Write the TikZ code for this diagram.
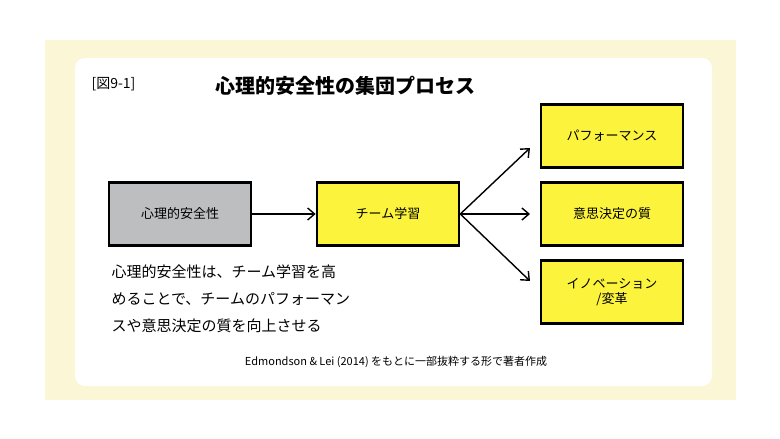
\documentclass[tikz,border=0pt]{standalone}
\usepackage{fontspec}
\setmainfont{Noto Sans CJK JP}
\usetikzlibrary{arrows.meta}
\definecolor{panel}{HTML}{FBF6D6}
\definecolor{ybox}{HTML}{FCF33C}
\definecolor{gbox}{HTML}{BDBEC0}
\begin{document}
\begin{tikzpicture}[x=1pt,y=-1pt,
 box/.style={draw=black,line width=2.6pt,fill=ybox,minimum width=142pt,minimum height=63pt,font=\fontsize{13}{15}\selectfont,align=center,inner sep=0pt},
 arr/.style={-{Straight Barb[length=7pt,width=12pt]},line width=1.4pt}]
\useasboundingbox (0,0) rectangle (780,439);
\fill[white] (0,0) rectangle (780,439);
\fill[panel] (45,40) rectangle (736,400);
\fill[white,rounded corners=10pt] (75,58) rectangle (712,386);
\node[anchor=west,font=\fontsize{14}{16}\selectfont] (fig) at (88,84) {[図9-1]};
\node[anchor=west,font=\fontsize{20}{22}\selectfont\bfseries] (title) at (212,86) {心理的安全性の集団プロセス};
\node[box,fill=gbox] (a) at (180,214) {心理的安全性};
\node[box] (b) at (388,214) {チーム学習};
\node[box] (c1) at (612,136) {パフォーマンス};
\node[box] (c2) at (612,214) {意思決定の質};
\node[box] (c3) at (612,292) {イノベーション\\/変革};
\coordinate (t1) at (530,148);
\coordinate (t2) at (530,214);
\coordinate (t3) at (530,281);
\draw[arr] (a) -- (b);
\draw[arr] (b.east) -- (t1);
\draw[arr] (b.east) -- (t2);
\draw[arr] (b.east) -- (t3);
\node[anchor=north west,align=left,font=\fontsize{15}{27}\selectfont] (txt) at (108,261) {心理的安全性は、チーム学習を高\\めることで、チームのパフォーマン\\スや意思決定の質を向上させる};
\node[font=\fontsize{11}{13}\selectfont] (cap) at (396,362) {Edmondson \& Lei (2014) をもとに一部抜粋する形で著者作成};
\end{tikzpicture}
\end{document}
